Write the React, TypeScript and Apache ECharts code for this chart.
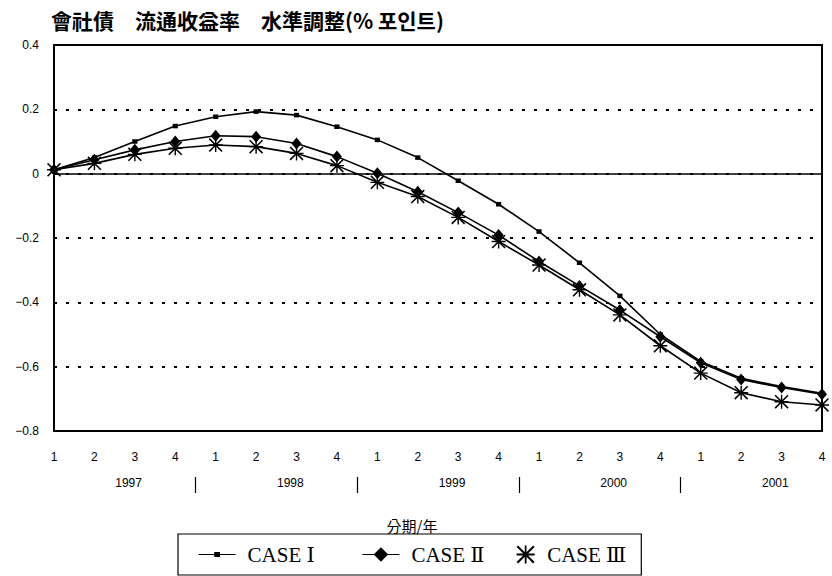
import React, { useEffect, useRef } from "react";
import * as echarts from "echarts";

// Quarter ticks (1–4 for each year) and the year row underneath them
const quarters = [
  "1", "2", "3", "4",
  "1", "2", "3", "4",
  "1", "2", "3", "4",
  "1", "2", "3", "4",
  "1", "2", "3", "4",
];
const years = ["1997", "1998", "1999", "2000", "2001"];

// Corporate bond yield level adjustment, %-points
const caseI = [
  0.012, 0.05, 0.1, 0.148, 0.177, 0.193, 0.182, 0.146, 0.105, 0.05,
  -0.022, -0.095, -0.18, -0.277, -0.38, -0.5, -0.584, -0.636, -0.662, -0.683,
];
const caseII = [
  0.012, 0.043, 0.074, 0.1, 0.118, 0.115, 0.094, 0.053, 0.001, -0.056,
  -0.121, -0.191, -0.273, -0.349, -0.424, -0.507, -0.588, -0.64, -0.665, -0.686,
];
const caseIII = [
  0.012, 0.032, 0.06, 0.079, 0.089, 0.084, 0.063, 0.025, -0.027, -0.071,
  -0.136, -0.211, -0.284, -0.361, -0.439, -0.535, -0.62, -0.681, -0.709, -0.719,
];

const seriesNames = ["CASE Ⅰ", "CASE Ⅱ", "CASE Ⅲ"];

const yMin = -0.8;
const yMax = 0.4;
const yStep = 0.2;

// small filled square inside a larger empty box, so it stays small in the legend too
const squareMark = "path://M0 0M20 20M6 6.5H14V13.5H6Z";
// eight-spoke asterisk
const asteriskMark =
  "path://M9 0H11V20H9Z M0 9H20V11H0Z M0 1.6L1.6 0L20 18.4L18.4 20Z M18.4 0L20 1.6L1.6 20L0 18.4Z";
// same asterisk, sitting in the right half of a wider box (legend icon without a line)
const asteriskLegend =
  "path://M-20 0 M9 0H11V20H9Z M0 9H20V11H0Z M0 1.6L1.6 0L20 18.4L18.4 20Z M18.4 0L20 1.6L1.6 20L0 18.4Z";

const numFont = "'Liberation Sans', Arial, sans-serif";
const cjkFont = "'Noto Sans CJK KR', 'Noto Sans CJK SC', sans-serif";
const serifFont = "'Liberation Serif', 'DejaVu Serif', serif";

// an invisible text box so that the text padding counts in the legend item size
const clearBox = "rgba(255,255,255,0)";

export default function App() {
  const ref = useRef<HTMLDivElement>(null);

  useEffect(() => {
    if (!ref.current) return;
    const chart = echarts.init(ref.current, null, { renderer: "svg" });

    const yearCenters = years.map((_, i) => i * 4 + 1.5);
    const yearBreaks = years.slice(1).map((_, i) => i * 4 + 3.5);

    const lineStyle = { color: "#000", width: 1.6 };

    chart.setOption({
      animation: false,
      backgroundColor: "#fff",
      title: {
        text: "會社債　流通收益率　水準調整(% 포인트)",
        left: 46,
        top: 4,
        textStyle: {
          fontFamily: cjkFont,
          fontSize: 21,
          fontWeight: "bold",
          color: "#000",
        },
      },
      grid: {
        left: 54,
        right: 10,
        top: 45,
        bottom: 145,
        show: true,
        borderColor: "#000",
        borderWidth: 2,
        backgroundColor: "transparent",
      },
      legend: {
        data: [
          { name: seriesNames[0], textStyle: { padding: [0, 37, 0, 7] } },
          { name: seriesNames[1], textStyle: { padding: [0, 4, 0, 7] } },
          { name: seriesNames[2], icon: asteriskLegend },
        ],
        left: 178,
        top: 534,
        orient: "horizontal",
        itemWidth: 37,
        itemHeight: 18,
        itemGap: 10,
        padding: [10, 15, 10, 20],
        borderColor: "#000",
        borderWidth: 1.2,
        borderRadius: 0,
        lineStyle: { width: 1.2 },
        textStyle: {
          fontFamily: serifFont,
          fontSize: 21,
          color: "#000",
          backgroundColor: clearBox,
          padding: [0, 0, 0, 7],
        },
      },
      xAxis: [
        {
          type: "category",
          data: quarters,
          boundaryGap: false,
          axisLine: { show: false },
          axisTick: { show: false },
          axisLabel: {
            margin: 20,
            fontFamily: numFont,
            fontSize: 12,
            color: "#000",
            interval: 0,
          },
          name: "分期/年",
          nameLocation: "middle",
          nameGap: 87,
          nameTextStyle: {
            fontFamily: cjkFont,
            fontSize: 15,
            color: "#000",
            verticalAlign: "top",
            padding: [0, 52, 0, 0],
          },
          splitLine: { show: false },
        },
        {
          type: "value",
          min: 0,
          max: quarters.length - 1,
          position: "bottom",
          offset: 46,
          axisLine: { show: false },
          splitLine: { show: false },
          axisTick: {
            show: true,
            length: 16,
            customValues: yearBreaks,
            lineStyle: { color: "#000", width: 1.2 },
          },
          axisLabel: {
            margin: 0,
            customValues: yearCenters,
            padding: [0, 0, 0, 28],
            fontFamily: numFont,
            fontSize: 12,
            color: "#000",
            formatter: (v: number) => years[Math.round((v - 1.5) / 4)] ?? "",
          },
        },
      ],
      yAxis: {
        type: "value",
        min: yMin,
        max: yMax,
        interval: yStep,
        axisLine: { show: false },
        axisTick: { show: false },
        axisLabel: {
          margin: 15,
          fontFamily: numFont,
          fontSize: 12,
          color: "#000",
          formatter: (v: number) => {
            const r = Math.round(v * 10) / 10;
            if (r === 0) return "0";
            return r < 0 ? "−" + Math.abs(r).toFixed(1) : r.toFixed(1);
          },
        },
        splitLine: {
          show: true,
          lineStyle: { color: "#000", width: 2, type: [3, 9] },
        },
      },
      series: [
        {
          name: seriesNames[0],
          type: "line",
          data: caseI,
          xAxisIndex: 0,
          symbol: squareMark,
          symbolSize: 13,
          showAllSymbol: true,
          lineStyle,
          itemStyle: { color: "#000" },
          markLine: {
            silent: true,
            symbol: "none",
            label: { show: false },
            lineStyle: { color: "#000", width: 1.6, type: "solid" },
            data: [{ yAxis: 0 }],
          },
        },
        {
          name: seriesNames[1],
          type: "line",
          data: caseII,
          xAxisIndex: 0,
          symbol: "diamond",
          symbolSize: [10, 12],
          showAllSymbol: true,
          lineStyle,
          itemStyle: { color: "#000" },
        },
        {
          name: seriesNames[2],
          type: "line",
          data: caseIII,
          xAxisIndex: 0,
          symbol: asteriskMark,
          symbolSize: 14,
          showAllSymbol: true,
          lineStyle,
          itemStyle: { color: "#000" },
        },
      ],
    });

    return () => chart.dispose();
  }, []);

  return (
    <div
      ref={ref}
      style={{ position: "absolute", left: 0, top: 0, width: 832, height: 576 }}
    />
  );
}
